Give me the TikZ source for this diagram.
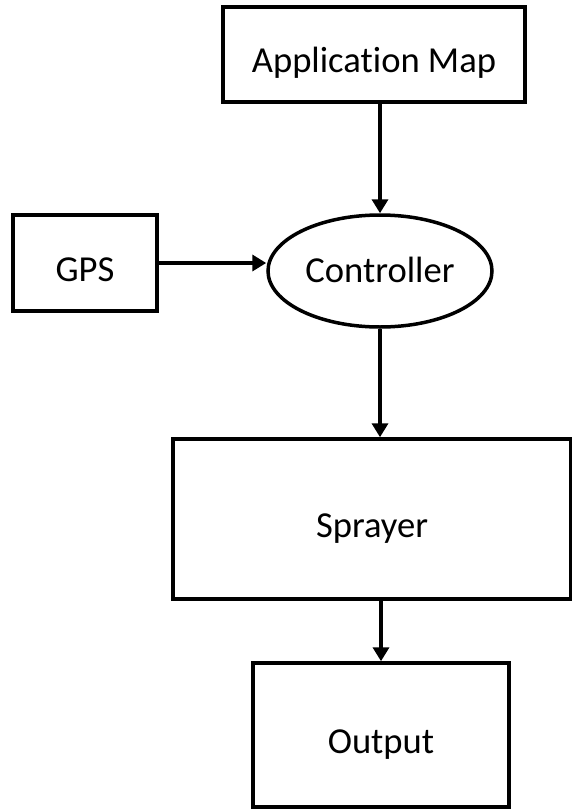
\documentclass[tikz,border=0pt]{standalone}
\usepackage{fontspec}
\setmainfont[Ligatures=NoCommon]{Carlito}
\usetikzlibrary{arrows.meta,shapes.geometric}

\begin{document}
\begin{tikzpicture}[x=1pt,y=-1pt,font={\fontsize{36.6}{44}\selectfont},
  box/.style={draw,rectangle,line width=3.5pt,inner sep=0pt,text height=36pt,text depth=0pt},
  oval/.style={draw,ellipse,line width=3.5pt,inner sep=0pt,text height=22pt,text depth=0pt},
  flow/.style={line width=3.5pt,-{Triangle[length=14pt,width=16pt]}}]
\useasboundingbox (0,0) rectangle (572,809);

% blocks
\node[box,minimum width=302pt,minimum height=95pt] (app) at (374,54.5) {Application Map};
\node[box,minimum width=144pt,minimum height=96pt] (gps) at (85,263) {GPS};
\node[oval,minimum width=224pt,minimum height=112pt] (ctrl) at (380,271) {Controller};
\node[box,minimum width=398pt,minimum height=160pt] (spray) at (372,519) {Sprayer};
\node[box,minimum width=256pt,minimum height=144pt] (out) at (381,735) {Output};

% connectors
\draw[flow] (app.south -| ctrl.north) -- (ctrl.north);
\draw[flow] (gps.east) -- (gps.east -| ctrl.west);
\draw[flow] (ctrl.south) -- (ctrl.south |- spray.north);
\draw[flow] (spray.south -| out.north) -- (out.north);

\end{tikzpicture}
\end{document}
